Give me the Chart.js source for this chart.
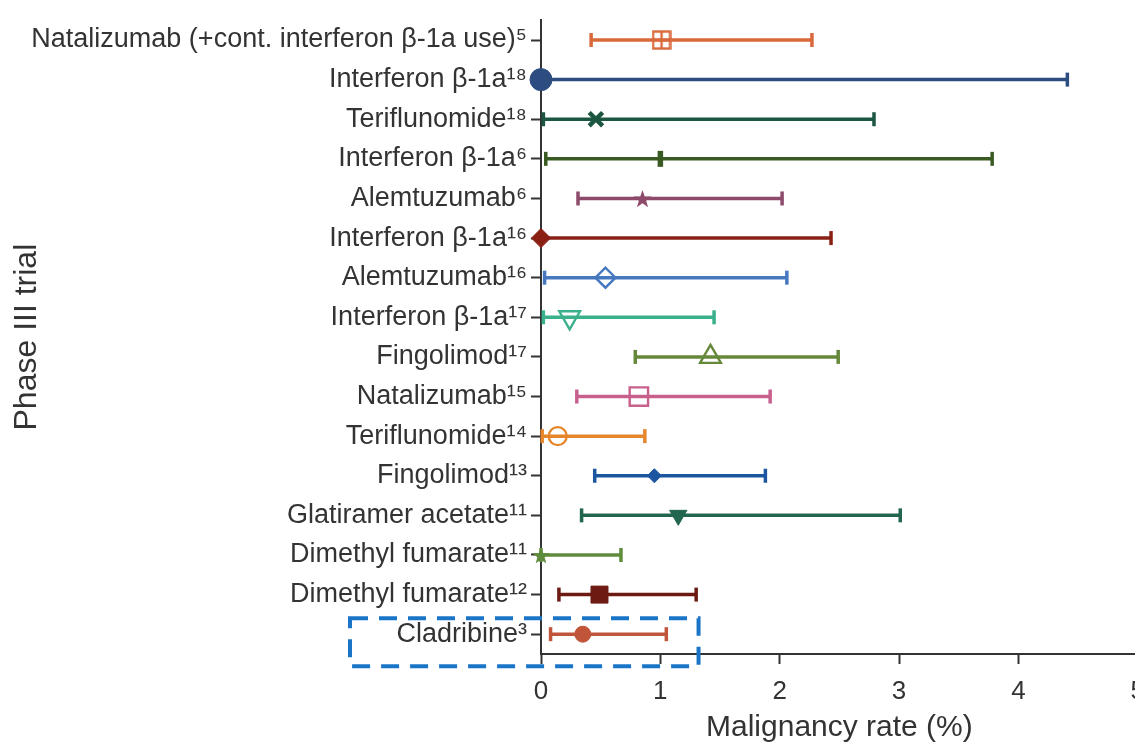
<!DOCTYPE html>
<html>
<head>
<meta charset="utf-8">
<script src="https://cdn.jsdelivr.net/npm/chart.js@4/dist/chart.umd.min.js"></script>
<style>
  html, body { margin: 0; padding: 0; background: #ffffff; overflow: hidden; }
  #wrap { position: absolute; left: 0; top: 0; width: 1157px; height: 746px; }
</style>
</head>
<body>
<div id="wrap"><canvas id="c" width="1157" height="746"></canvas></div>
<script>
// Trials, top to bottom
const trials = [
  'Natalizumab (+cont. interferon β-1a use)⁵',
  'Interferon β-1a¹⁸',
  'Teriflunomide¹⁸',
  'Interferon β-1a⁶',
  'Alemtuzumab⁶',
  'Interferon β-1a¹⁶',
  'Alemtuzumab¹⁶',
  'Interferon β-1a¹⁷',
  'Fingolimod¹⁷',
  'Natalizumab¹⁵',
  'Teriflunomide¹⁴',
  'Fingolimod¹³',
  'Glatiramer acetate¹¹',
  'Dimethyl fumarate¹¹',
  'Dimethyl fumarate¹²',
  'Cladribine³'
];

// Malignancy rate (%) with confidence limits
const estimate = [1.01, 0.00, 0.46, 1.00, 0.85, 0.00, 0.54, 0.24, 1.42, 0.82, 0.14, 0.95, 1.15, 0.00, 0.49, 0.35];
const lower    = [0.42, 0.00, 0.02, 0.04, 0.31, 0.00, 0.03, 0.02, 0.79, 0.30, 0.01, 0.45, 0.34, 0.00, 0.15, 0.08];
const upper    = [2.27, 4.41, 2.79, 3.78, 2.02, 2.43, 2.06, 1.45, 2.49, 1.92, 0.87, 1.88, 3.01, 0.67, 1.30, 1.05];

const xTicks = [0, 1, 2, 3, 4, 5];

// Series colours
const colors = [
  '#d9693b', '#2d4d80', '#1c5640', '#3a5a24', '#8d4a6b', '#8a1f14', '#4678c0', '#3bb08d',
  '#66883a', '#c8608e', '#e6862a', '#1c55a0', '#226650', '#5f8c3c', '#6c1a12', '#c0553a'
];

// Marker glyphs drawn on small canvases
function boxPlus(color) {
  const c = document.createElement('canvas');
  c.width = 20; c.height = 20;
  const g = c.getContext('2d');
  g.strokeStyle = color; g.lineWidth = 2.4;
  g.strokeRect(1.5, 1.5, 17, 17);
  g.beginPath();
  g.moveTo(10, 2); g.lineTo(10, 18);
  g.moveTo(2, 10); g.lineTo(18, 10);
  g.stroke();
  return c;
}
function star(color, outer, inner) {
  const s = Math.ceil(outer * 2 + 2);
  const c = document.createElement('canvas');
  c.width = s; c.height = s;
  const g = c.getContext('2d');
  g.fillStyle = color;
  g.beginPath();
  for (let k = 0; k < 10; k++) {
    const r = k % 2 === 0 ? outer : inner;
    const a = -Math.PI / 2 + k * Math.PI / 5;
    const px = s / 2 + r * Math.cos(a), py = s / 2 + 1 + r * Math.sin(a);
    if (k === 0) g.moveTo(px, py); else g.lineTo(px, py);
  }
  g.closePath();
  g.fill();
  return c;
}

const markerStyle = [
  boxPlus(colors[0]), 'circle', 'crossRot', 'line', star(colors[4], 9.5, 3.8), 'rectRot', 'rectRot', 'triangle',
  'triangle', 'rect', 'circle', 'rectRot', 'triangle', star(colors[13], 9, 3.8), 'rect', 'circle'
];
const markerRadius   = [10, 11, 9.5, 8, 9, 9.5, 10, 12, 12, 13, 9, 7, 10, 9, 12, 8];
const markerRotation = [0, 0, 0, 90, 0, 0, 0, 180, 0, 0, 0, 0, 180, 0, 0, 0];
const markerFilled   = [false, true, false, false, true, true, false, false, false, false, false, true, true, true, true, true];
const markerBorder   = [0, 1, 4.5, 5.5, 0, 1, 2.4, 2.4, 2.4, 2.4, 2.4, 1, 1, 0, 1, 1];

const datasets = [{
  label: 'Estimate',
  data: estimate.map((v, i) => ({ x: v, y: i })),
  showLine: false,
  clip: false,
  pointStyle: markerStyle,
  pointRadius: markerRadius,
  pointRotation: markerRotation,
  pointBorderWidth: markerBorder,
  pointBorderColor: colors,
  pointBackgroundColor: colors.map((c, i) => markerFilled[i] ? c : 'rgba(255,255,255,0)')
}];

trials.forEach((t, i) => {
  datasets.push({
    label: t,
    data: [{ x: lower[i], y: i }, { x: upper[i], y: i }],
    borderColor: colors[i],
    borderWidth: 3.5,
    clip: false,
    pointStyle: 'line',
    pointRotation: 90,
    pointRadius: 7,
    pointBorderWidth: 3.5,
    pointBorderColor: colors[i],
    pointBackgroundColor: colors[i]
  });
});

// Dashed highlight around the Cladribine row
const highlightBox = {
  id: 'highlightBox',
  afterDraw(chart) {
    const { ctx, scales: { x, y } } = chart;
    const row = y.getPixelForValue(trials.length - 1);
    const left = chart.chartArea.left - 191;
    const right = x.getPixelForValue(1.32);
    ctx.save();
    ctx.strokeStyle = '#1a75c9';
    ctx.lineWidth = 4;
    ctx.setLineDash([18, 11]);
    ctx.strokeRect(left, row - 16, right - left, 48);
    ctx.restore();
  }
};

const fontFamily = '"Liberation Sans", Arial, Helvetica, sans-serif';
const ink = '#333333';

new Chart(document.getElementById('c'), {
  type: 'line',
  data: { datasets },
  plugins: [highlightBox],
  options: {
    responsive: false,
    animation: false,
    layout: { padding: { top: 12, right: 15, bottom: 0, left: 0 } },
    plugins: { legend: { display: false }, tooltip: { enabled: false } },
    scales: {
      x: {
        type: 'linear',
        min: 0,
        max: 5,
        afterBuildTicks: s => { s.ticks = xTicks.map(v => ({ value: v })); },
        afterFit: s => { s.height = 92; },
        border: { display: true, color: ink, width: 2 },
        grid: { drawOnChartArea: false, drawTicks: true, tickLength: 10, tickWidth: 2, tickColor: ink },
        ticks: { color: ink, padding: 12, font: { family: fontFamily, size: 26 } },
        title: {
          display: true,
          text: 'Malignancy rate (%)',
          color: ink,
          padding: { top: 0, bottom: 0 },
          font: { family: fontFamily, size: 30 }
        }
      },
      y: {
        type: 'linear',
        reverse: true,
        min: -0.5,
        max: 15.5,
        afterBuildTicks: s => { s.ticks = trials.map((_, i) => ({ value: i })); },
        afterFit: s => { s.width = 541; },
        border: { display: true, color: ink, width: 2 },
        grid: { drawOnChartArea: false, drawTicks: true, tickLength: 10, tickWidth: 2, tickColor: ink },
        ticks: {
          color: ink,
          padding: 4,
          autoSkip: false,
          font: { family: fontFamily, size: 27 },
          callback: v => trials[v]
        },
        title: {
          display: true,
          text: 'Phase III trial',
          color: ink,
          padding: { top: 8, bottom: 0 },
          font: { family: fontFamily, size: 32 }
        }
      }
    }
  }
});
</script>
</body>
</html>
